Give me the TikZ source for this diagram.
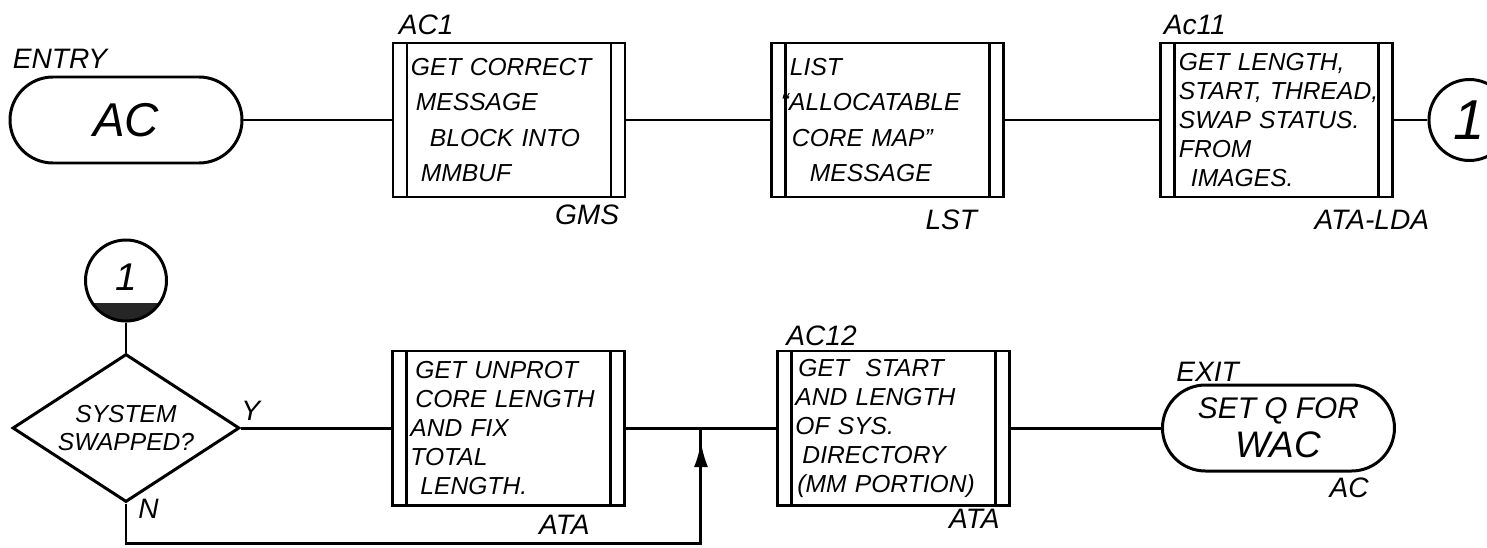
\documentclass[tikz,border=0pt]{standalone}
\usepackage{fontspec}
\setmainfont{Liberation Sans}
\usepackage{tikz}
\usetikzlibrary{arrows.meta, positioning, calc, shapes.geometric, decorations.markings}
\newcommand{\handfont}[2]{\itshape\fontsize{#1}{#2}\selectfont}
\tikzset{
  procbox/.style={draw, line width=1.7pt, minimum width=46.4mm, minimum height=30.8mm, text width=39.2mm, inner xsep=3.6mm, align=left, font=\handfont{14}{16.5},
    path picture={
      \draw[line width=1.7pt] ([xshift=2.8mm]path picture bounding box.north west) -- ([xshift=2.8mm]path picture bounding box.south west);
      \draw[line width=1.7pt] ([xshift=-2.8mm]path picture bounding box.north east) -- ([xshift=-2.8mm]path picture bounding box.south east);}},
  spaced/.style={font=\handfont{14}{20}},
  terminal/.style={draw, line width=1.7pt, rounded corners=8.6mm, minimum width=46.4mm, minimum height=17.2mm, align=center},
  offpage/.style={draw, circle, line width=1.7pt, minimum size=16.2mm, inner sep=0pt, font=\handfont{32}{32}},
  decision/.style={draw, diamond, shape aspect=1.53, line width=1.7pt, minimum width=45.4mm, minimum height=29.6mm, inner sep=0pt, align=center, font=\handfont{14}{15.5}},
  tag/.style={inner sep=0pt, font=\handfont{16}{16}},
  flow/.style={line width=1.7pt},
  back/.style={flow, postaction={decorate}, decoration={markings, mark=at position -2.8mm with {\arrow{Latex[length=5mm,width=2.8mm]}}}}
}
\begin{document}
\begin{tikzpicture}[node distance=30mm]
    \useasboundingbox (0,0) rectangle (29.74,-10.94);
    \node[terminal, font=\handfont{27}{27}] (entry) at (2.52,-2.40) {AC};
    \node[procbox, spaced, right=29.6mm of entry] (getmsg) {GET CORRECT\\\hspace*{1mm}MESSAGE\\\hspace*{3.8mm}BLOCK INTO\\\hspace*{2mm}MMBUF};
    \node[procbox, spaced, right=28.8mm of getmsg] (list) {LIST\\\hspace*{-1.8mm}``ALLOCATABLE\\\hspace*{0.4mm}CORE MAP''\\\hspace*{4mm}MESSAGE};
    \node[procbox, right=30.8mm of list] (getlen) {GET LENGTH,\\START,~THREAD,\\SWAP STATUS.\\FROM\\\hspace*{2.4mm}IMAGES.};
    \node[offpage, right=6.6mm of getlen] (con) {1};
    \draw[flow] (entry) -- (getmsg);
    \draw[flow] (getmsg) -- (list);
    \draw[flow] (list) -- (getlen);
    \draw[flow] (getlen) -- (con);
    \node[tag, above right=1.4mm and 0.8mm of entry.north west] (entrytag) {ENTRY};
    \node[tag, above right=1.2mm and 1.4mm of getmsg.north west] (getmsgtag) {AC1};
    \node[tag, below left=1.2mm and 1.4mm of getmsg.south east] (gmstag) {GMS};
    \node[tag, below left=2.2mm and 5.6mm of list.south east] (lsttag) {LST};
    \node[tag, above right=1.2mm and 0.8mm of getlen.north west] (getlentag) {Ac11};
    \node[tag, below left=2.2mm and -7mm of getlen.south east] (ldatag) {ATA-LDA};
    \node[decision] (swapq) at (2.52,-8.56) {SYSTEM\\SWAPPED?};
    \node[offpage, font=\handfont{22}{22}, above=6mm of swapq, path picture={\fill[black!85] (path picture bounding box.south west) rectangle ([yshift=3.6mm]path picture bounding box.south east);}] (conb) {\raisebox{1.5mm}{1}};
    \node[procbox, right=of swapq] (unprot) {\hspace*{1mm}GET UNPROT\\\hspace*{1mm}CORE LENGTH\\AND FIX\\TOTAL\\\hspace*{2mm}LENGTH.};
    \node[procbox, right=of unprot] (getdir) {\hspace*{0.6mm}GET \ START\\AND LENGTH\\OF SYS.\\\hspace*{1.4mm}DIRECTORY\\\hspace*{0.4mm}(MM PORTION)};
    \node[terminal, font=\handfont{17}{22}, right=of getdir] (exitq) {SET Q FOR\\{\fontsize{21}{21}\selectfont WAC}};
    \coordinate (merge) at ($(unprot.east)!0.5!(getdir.west)$);
    \draw[flow] (conb) -- (swapq);
    \draw[flow] (swapq.east) -- (unprot);
    \draw[flow] (unprot) -- (getdir);
    \draw[flow] (getdir) -- (exitq);
    \draw[back] (swapq.south) -- ++(0,-0.8) -| (merge);
    \node[tag, above right=1.4mm and 0mm of swapq.east] (ytag) {Y};
    \node[tag, below right=-1mm and 2.4mm of swapq.south] (ntag) {N};
    \node[tag, below left=1.6mm and 7.2mm of unprot.south east] (unprottag) {ATA};
    \node[tag, above right=0.6mm and 2mm of getdir.north west] (getdirtag) {AC12};
    \node[tag, below left=0.4mm and 2.2mm of getdir.south east] (atatag) {ATA};
    \node[tag, above right=0.3mm and 3mm of exitq.north west] (exittag) {EXIT};
    \node[tag, below left=1mm and 5.4mm of exitq.south east] (actag) {AC};
\end{tikzpicture}
\end{document}
